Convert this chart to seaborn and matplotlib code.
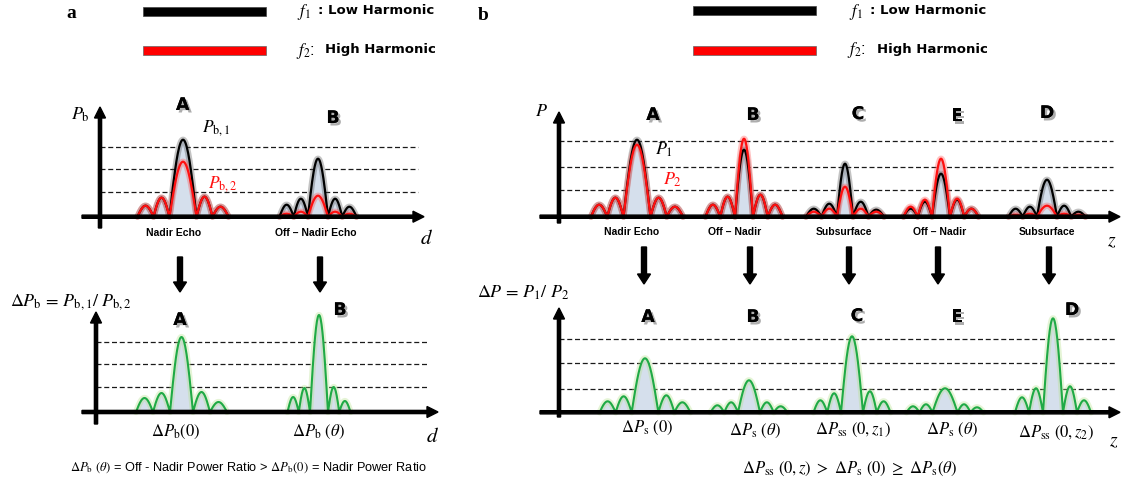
import numpy as np
import matplotlib
matplotlib.use("Agg")
import matplotlib.pyplot as plt
import seaborn as sns
from matplotlib.patches import FancyArrow, Rectangle
import matplotlib.patheffects as pe

# ---------------- data (heights are read off the picture, in pixel-power units) -------------
# lobe heights: [outer-left, inner-left, main, inner-right, outer-right]
a_labels = ["A", "B"]
a_pos_top = [183, 318]
a_main_top = [27, 20]
a_side_top = [16, 14.25]
a_p1 = [[11, 19, 77, 20, 10], [12, 18, 58, 18, 10]]
a_p2 = [[11, 19, 55, 20, 10], [3, 5, 21, 5, 3]]
a_top_names = ["Nadir Echo", "Off \u2013 Nadir Echo"]

a_pos_bot = [181.5, 319]
a_main_bot = [23, 18]
a_side_bot = [17, 11.25]
a_ratio = [[14, 19, 75, 20, 10], [15, 24, 97, 25, 11]]
a_bot_names = [r"$\Delta P_{\rm b}(0)$", r"$\Delta P_{\rm b}\ (\theta)$"]

b_labels = ["A", "B", "C", "E", "D"]
b_pos_top = [637, 744, 845, 941, 1047]
b_main_top = [27, 18, 16, 18, 20]
b_side_top = [16.25, 14.75, 15.5, 14.25, 14.25]
b_p1 = [[12, 19, 77, 19, 10], [12, 20, 67, 22, 12], [8, 13, 53, 15, 7],
        [8, 15, 43, 17, 8], [8, 10, 37, 11, 5]]
b_p2 = [[12, 19, 72, 19, 10], [12, 20, 78, 22, 12], [5, 8, 30, 8, 5],
        [10, 17, 58, 18, 8], [2, 3, 11, 3, 2]]
b_top_names = ["Nadir Echo", "Off \u2013 Nadir", "Subsurface", "Off \u2013 Nadir", "Subsurface"]

b_pos_bot = [645, 749, 852, 945, 1053]
b_main_bot = [26.7, 22, 22, 25, 20]
b_side_bot = [16, 13.75, 13.75, 13, 14]
b_ratio = [[11, 16, 54, 17, 10], [7, 10, 32, 10, 6], [12, 19, 76, 21, 11],
           [6, 8, 24, 8, 5], [15, 24, 94, 26, 12]]
b_bot_names = [r"$\Delta P_{\rm s}\ (0)$", r"$\Delta P_{\rm s}\ (\theta)$",
               r"$\Delta P_{\rm ss}\ (0, z_1)$", r"$\Delta P_{\rm s}\ (\theta)$",
               r"$\Delta P_{\rm ss}\ (0, z_2)$"]

# ---------------- style ----------------
sns.set_theme(style="white")
plt.rcParams["font.family"] = ["Liberation Sans", "DejaVu Sans"]
plt.rcParams["mathtext.fontset"] = "stix"
plt.rcParams["text.color"] = "black"

W, H = 1121, 487
fig = plt.figure(figsize=(11.21, 4.87), dpi=100)
ax = fig.add_axes([0, 0, 1, 1])

FILL = "#d5dfec"
GREEN = "#1faa45"


def pulse(center, main_w, side_w, heights, n=40):
    widths = [side_w, side_w, main_w, side_w, side_w]
    x0 = center - main_w / 2 - 2 * side_w
    xs, ys = [], []
    for w, h in zip(widths, heights):
        t = np.linspace(0, 1, n)
        xs.append(x0 + t * w)
        ys.append(h * np.sin(np.pi * t))
        x0 += w
    return np.concatenate(xs), np.concatenate(ys)


def curve(x, y, color, glow, lw=1.6):
    sns.lineplot(x=x, y=y, ax=ax, color=glow, lw=4.5, alpha=0.35, sort=False,
                 estimator=None, zorder=3)
    sns.lineplot(x=x, y=y, ax=ax, color=color, lw=lw, sort=False,
                 estimator=None, zorder=4)


def frame(base, x_left, x_right, yaxis_x, y_tip, y_bot, dash_end, levels):
    for lv in levels:
        ax.plot([yaxis_x, dash_end], [base - lv, base - lv], color="k", lw=0.9,
                ls=(0, (4, 2.2)), zorder=1)
    ax.add_patch(FancyArrow(x_left, base, x_right - x_left, 0, width=3.2,
                            head_width=11, head_length=11, length_includes_head=True,
                            color="black", zorder=6))
    ax.add_patch(FancyArrow(yaxis_x, y_bot, 0, y_tip - y_bot, width=3.2,
                            head_width=11, head_length=11, length_includes_head=True,
                            color="black", zorder=6))


def two_freq(base, pos, mw, sw, p1, p2):
    for c, m, s, h1, h2 in zip(pos, mw, sw, p1, p2):
        x, y1 = pulse(c, m, s, h1)
        _, y2 = pulse(c, m, s, h2)
        ax.fill_between(x, base, base - np.maximum(y1, y2), color=FILL, lw=0, zorder=2)
        curve(x, base - y1, "black", "#555555")
        curve(x, base - y2, "#ff1010", "#ff5050")


def ratio(base, pos, mw, sw, hh):
    for c, m, s, h in zip(pos, mw, sw, hh):
        x, y = pulse(c, m, s, h)
        ax.fill_between(x, base, base - y, color=FILL, lw=0, zorder=2)
        curve(x, base - y, GREEN, "#b5e08a", lw=1.5)


shadow = [pe.withSimplePatchShadow(offset=(1.8, -1.8), shadow_rgbFace="#777777", alpha=0.6),
          pe.Normal()]


def letter(x, y, s):
    ax.text(x, y, s, fontsize=12.5, fontweight="heavy", family="DejaVu Sans",
            ha="center", va="center", path_effects=shadow, zorder=8)


def down_arrow(x, y0, y1):
    ax.add_patch(FancyArrow(x, y0, 0, y1 - y0, width=5, head_width=13, head_length=10,
                            length_includes_head=True, color="black", zorder=6))


# ---------------- panel a ----------------
ax.text(71, 13, "a", fontsize=14, fontweight="bold", family="Liberation Serif",
        ha="center", va="center")
ax.add_patch(Rectangle((143, 7), 123, 9, facecolor="black", edgecolor="#444", lw=0.5))
ax.add_patch(Rectangle((143, 46), 123, 9, facecolor="#ff0000", edgecolor="#666", lw=0.5))
ax.text(297, 12, r"$f_1$", fontsize=12, ha="left", va="center")
ax.text(318, 10, ": Low Harmonic", fontsize=9.5, fontweight="bold", family="DejaVu Sans",
        ha="left", va="center")
ax.text(296, 51, r"$f_2$:", fontsize=12, ha="left", va="center")
ax.text(325, 50, "High Harmonic", fontsize=9.5, fontweight="bold", family="DejaVu Sans",
        ha="left", va="center")

base_at = 216.7
frame(base_at, 82, 424, 100, 107, 228, 418, [70, 47.4, 25])
two_freq(base_at, a_pos_top, a_main_top, a_side_top, a_p1, a_p2)
ax.text(80, 115, r"$P_{\rm b}$", fontsize=13, ha="center", va="center")
ax.text(216, 128, r"$P_{\rm b,1}$", fontsize=12.5, ha="center", va="center")
ax.text(223, 184, r"$P_{\rm b,2}$", fontsize=12.5, ha="center", va="center", color="#ff1010")
ax.text(426, 238, r"$d$", fontsize=15, ha="center", va="center")
letter(182.7, 105, a_labels[0])
letter(333, 118, a_labels[1])
for c, nm in zip([174, 316], a_top_names):
    ax.text(c, 233, nm, fontsize=7.5, fontweight="bold", ha="center", va="center")
for c in [180, 320]:
    down_arrow(c, 257, 292)

base_ab = 412
frame(base_ab, 82, 438, 96, 312, 424, 427, [70.3, 48.3, 25.3])
ratio(base_ab, a_pos_bot, a_main_bot, a_side_bot, a_ratio)
ax.text(10, 302, r"$\Delta P_{\rm b}\,=\,P_{\rm b,1}/\ P_{\rm b,2}$", fontsize=13,
        ha="left", va="center")
letter(180, 320, a_labels[0])
letter(340, 310, a_labels[1])
for c, nm in zip([176, 319], a_bot_names):
    ax.text(c, 432, nm, fontsize=12, ha="center", va="center")
ax.text(433, 436, r"$d$", fontsize=15, ha="center", va="center")
ax.text(248, 468, r"$\Delta P_{\rm b}\ (\theta)$ = Off - Nadir Power Ratio > "
        r"$\Delta P_{\rm b}(0)$ = Nadir Power Ratio", fontsize=9.2, ha="center", va="center")

# ---------------- panel b ----------------
ax.text(483, 15, "b", fontsize=14, fontweight="bold", family="Liberation Serif",
        ha="center", va="center")
ax.add_patch(Rectangle((693, 6), 123, 9, facecolor="black", edgecolor="#444", lw=0.5))
ax.add_patch(Rectangle((693, 46), 123, 8.5, facecolor="#ff0000", edgecolor="#666", lw=0.5))
ax.text(849, 12, r"$f_1$", fontsize=12, ha="left", va="center")
ax.text(870, 10, ": Low Harmonic", fontsize=9.5, fontweight="bold", family="DejaVu Sans",
        ha="left", va="center")
ax.text(847, 50, r"$f_2$:", fontsize=12, ha="left", va="center")
ax.text(877, 49, "High Harmonic", fontsize=9.5, fontweight="bold", family="DejaVu Sans",
        ha="left", va="center")

base_bt = 216.7
frame(base_bt, 540, 1120, 559, 112, 223, 1113, [76, 49.4, 26.7])
two_freq(base_bt, b_pos_top, b_main_top, b_side_top, b_p1, b_p2)
ax.text(541, 112, r"$P$", fontsize=13, ha="center", va="center")
ax.text(664, 150, r"$P_1$", fontsize=13, ha="center", va="center")
ax.text(673, 180, r"$P_2$", fontsize=13, ha="center", va="center", color="#ff1010")
for (x, y), s in zip([(653, 115), (753, 115), (858, 114), (957, 116), (1047, 113)], b_labels):
    letter(x, y, s)
for c, nm in zip([632, 735, 844, 939.5, 1047], b_top_names):
    ax.text(c, 232, nm, fontsize=7.5, fontweight="bold", ha="center", va="center")
ax.text(1112, 242, r"$z$", fontsize=14, ha="center", va="center")
for c in [644, 750, 849, 938, 1049]:
    down_arrow(c, 247, 284)

base_bb = 412.3
frame(base_bb, 540, 1120, 559, 308, 417, 1115, [73, 49, 23.6])
ratio(base_bb, b_pos_bot, b_main_bot, b_side_bot, b_ratio)
ax.text(477, 293, r"$\Delta P\,=\,P_1/\ P_2$", fontsize=13, ha="left", va="center")
for (x, y), s in zip([(648, 317), (753, 317), (857, 316), (957, 317), (1072, 310)], b_labels):
    letter(x, y, s)
for c, y, nm in zip([647.5, 755, 853, 952, 1056], [428, 431, 430, 430, 433], b_bot_names):
    ax.text(c, y, nm, fontsize=12, ha="center", va="center")
ax.text(1114, 442, r"$z$", fontsize=14, ha="center", va="center")
ax.text(850, 469, r"$\Delta P_{\rm ss}\ (0, z)\ >\ \Delta P_{\rm s}\ (0)\ \geq\ \Delta P_{\rm s}(\theta)$",
        fontsize=12, ha="center", va="center")

ax.set_xlim(0, W)
ax.set_ylim(H, 0)
ax.axis("off")
fig.savefig("out.png", dpi=100, facecolor="white")
